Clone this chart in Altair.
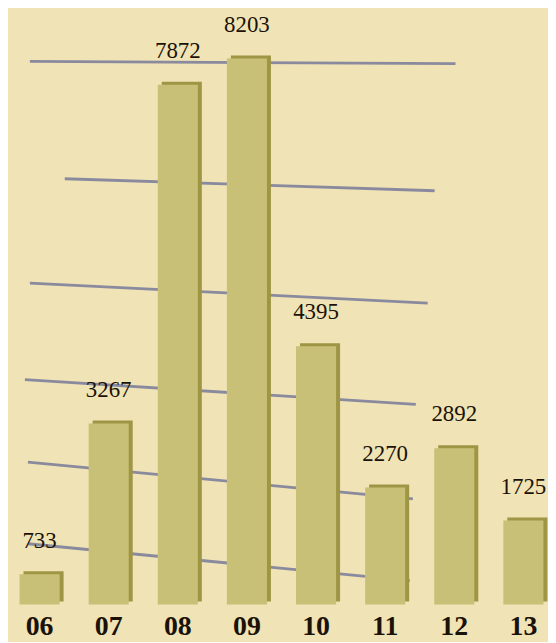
import altair as alt
import pandas as pd

years = ["06", "07", "08", "09", "10", "11", "12", "13"]
values = [733, 3267, 7872, 8203, 4395, 2270, 2892, 1725]

# hand-drawn guide lines: start/end (category index units) and values
grid_x0 = [-0.141, 0.363, -0.141, -0.213, -0.170, -0.170]
grid_x1 = [6.017, 5.715, 5.614, 5.442, 5.400, 5.355]
grid_v0 = [8166, 6667, 5273, 3917, 2674, 1315]
grid_v1 = [8140, 6510, 5000, 3553, 2085, 604]

bars_df = pd.DataFrame({"year": years, "value": values})
grid_df = pd.DataFrame({"x0": grid_x0, "x1": grid_x1, "v0": grid_v0, "v1": grid_v1})

W, H = 530, 598
ydom = [0, 8809]
yscale = alt.Scale(type="pow", exponent=1.2, domain=ydom)

xband = alt.X("year:N", sort=years,
              scale=alt.Scale(paddingInner=0.42, paddingOuter=0.023),
              axis=alt.Axis(title=None, labelAngle=0, domain=False, ticks=False,
                            labelFont="Liberation Serif", labelFontWeight="bold",
                            labelFontSize=28, labelColor="#1a1208", labelPadding=8))
yq = alt.Y("value:Q", scale=yscale, axis=None)

grid = alt.Chart(grid_df).mark_rule(color="#8a8a9e", strokeWidth=2.8).encode(
    x=alt.X("x0:Q", scale=alt.Scale(domain=[-0.314, 7.312]), axis=None),
    x2="x1:Q",
    y=alt.Y("v0:Q", scale=yscale, axis=None),
    y2="v1:Q",
)

shade = alt.Chart(bars_df).mark_bar(color="#9e9644", xOffset=4, yOffset=-3).encode(x=xband, y=yq)
face = alt.Chart(bars_df).mark_bar(color="#c8c076").encode(x=xband, y=yq)
labels = alt.Chart(bars_df).mark_text(
    baseline="bottom", dy=-22, font="Liberation Serif", fontSize=23, color="#1a1208"
).encode(x=xband, y=yq, text="value:Q")

bars = alt.layer(shade, face, labels)

chart = alt.layer(grid, bars).resolve_scale(x="independent").properties(
    width=W, height=H,
    padding={"left": 10, "top": 0, "right": 0, "bottom": 0},
    background="#f0e3b5",
).configure_view(stroke=None)

chart.save("out.html", embed_options={"renderer": "svg", "actions": False})
